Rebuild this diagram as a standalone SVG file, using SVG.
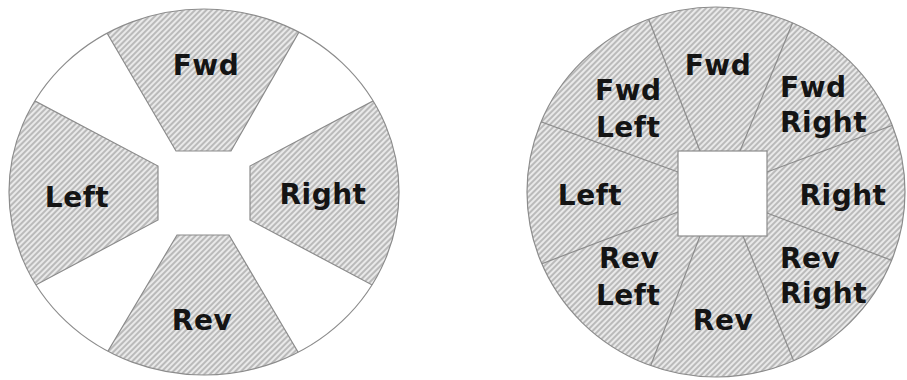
<svg xmlns="http://www.w3.org/2000/svg" width="907" height="380" viewBox="0 0 907 380">
<style>
.lbl{font-family:"DejaVu Sans","Verdana",sans-serif;font-weight:bold;font-size:28px;letter-spacing:0.5px;fill:#141414}
.c{text-anchor:middle}
.rim{fill:none;stroke:#8c8c8c;stroke-width:1.2}
.sec{fill:url(#hatch);stroke:#8c8c8c;stroke-width:1.2}
.spoke{stroke:#8c8c8c;stroke-width:1.2;fill:none}
.hole{fill:#fff;stroke:#8c8c8c;stroke-width:1.2}
</style>
<defs>
<pattern id="hatch" width="4" height="4" patternUnits="userSpaceOnUse" patternTransform="rotate(45)">
<rect width="4" height="4" fill="#e9e9e9"/>
<line x1="1" y1="0" x2="1" y2="4" stroke="#a6a6a6" stroke-width="1.4"/>
</pattern>
<clipPath id="clipL"><ellipse cx="204" cy="192" rx="195" ry="183"/></clipPath>
<clipPath id="clipR"><ellipse cx="716" cy="192" rx="189" ry="185"/></clipPath>
</defs>
<g id="left-wheel">
<ellipse cx="204" cy="192" rx="195" ry="183" fill="#fff"/>
<g clip-path="url(#clipL)">
<g id="l-fwd"><path class="sec" d="M87.7,0 L317.3,0 L231,151 L176,151 Z"/></g>
<g id="l-right"><path class="sec" d="M408,82.5 L420,82.5 L420,304 L408,304 L250,220 L250,166 Z"/></g>
<g id="l-rev"><path class="sec" d="M314.5,380 L90.8,380 L177,235 L229,235 Z"/></g>
<g id="l-left"><path class="sec" d="M0,304 L-10,304 L-10,82.5 L0,82.5 L158,166 L158,220 Z"/></g>
</g>
<ellipse class="rim" cx="204" cy="192" rx="195" ry="183"/>
<text class="lbl c" x="206" y="75">Fwd</text>
<text class="lbl c" x="323" y="204">Right</text>
<text class="lbl c" x="202" y="330">Rev</text>
<text class="lbl c" x="77" y="207">Left</text>
</g>
<g id="right-wheel">
<ellipse cx="716" cy="192" rx="189" ry="185" fill="url(#hatch)"/>
<g id="connectors" clip-path="url(#clipR)">
<line class="spoke" x1="700" y1="151" x2="645" y2="10"/>
<line class="spoke" x1="740" y1="151" x2="797" y2="12"/>
<line class="spoke" x1="767" y1="172" x2="912" y2="118"/>
<line class="spoke" x1="767" y1="213" x2="912" y2="268"/>
<line class="spoke" x1="743" y1="236" x2="799" y2="374"/>
<line class="spoke" x1="700" y1="236" x2="646" y2="378"/>
<line class="spoke" x1="678" y1="212" x2="520" y2="272"/>
<line class="spoke" x1="678" y1="172" x2="520" y2="114"/>
</g>
<ellipse class="rim" cx="716" cy="192" rx="189" ry="185"/>
<rect id="r-hub" class="hole" x="678" y="151" width="89" height="85"/>
<g id="r-fwd"><text class="lbl c" x="718" y="75">Fwd</text></g>
<g id="r-fwdleft"><text class="lbl" x="595" y="100">Fwd</text><text class="lbl" x="596" y="137">Left</text></g>
<g id="r-fwdright"><text class="lbl" x="780" y="97">Fwd</text><text class="lbl" x="780" y="132">Right</text></g>
<g id="r-left"><text class="lbl c" x="590" y="205">Left</text></g>
<g id="r-right"><text class="lbl c" x="843" y="205">Right</text></g>
<g id="r-revleft"><text class="lbl" x="599" y="268">Rev</text><text class="lbl" x="596" y="305">Left</text></g>
<g id="r-revright"><text class="lbl" x="780" y="268">Rev</text><text class="lbl" x="780" y="303">Right</text></g>
<g id="r-rev"><text class="lbl c" x="723" y="330">Rev</text></g>
</g>
</svg>
